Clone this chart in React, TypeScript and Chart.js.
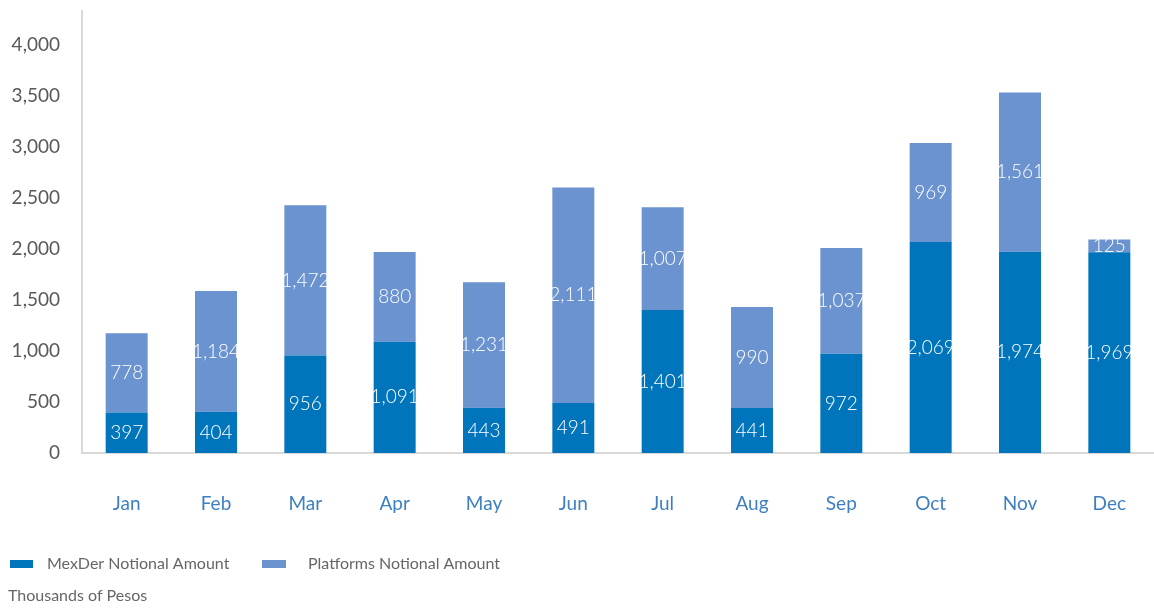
import React, { useEffect, useRef } from "react";
import { Chart, registerables } from "chart.js";

Chart.register(...registerables);

const months = ["Jan", "Feb", "Mar", "Apr", "May", "Jun", "Jul", "Aug", "Sep", "Oct", "Nov", "Dec"];
const mexder = [397, 404, 956, 1091, 443, 491, 1401, 441, 972, 2069, 1974, 1969];
const platforms = [778, 1184, 1472, 880, 1231, 2111, 1007, 990, 1037, 969, 1561, 125];
const yTicks = [0, 500, 1000, 1500, 2000, 2500, 3000, 3500, 4000];
const seriesNames = ["MexDer Notional Amount", "Platforms Notional Amount"];
const unitNote = "Thousands of Pesos";

const C_MEX = "#0075BB";
const C_PLAT = "#6B93CF";
const FONT = "Lato";

const fmt = (v: number) => v.toLocaleString("en-US");

export default function App() {
  const ref = useRef<HTMLCanvasElement>(null);
  useEffect(() => {
    const labelsPlugin = {
      id: "segLabels",
      afterDatasetsDraw(chart: any) {
        const ctx = chart.ctx;
        ctx.save();
        ctx.fillStyle = "#ffffff";
        ctx.font = `300 19px ${FONT}`;
        ctx.textAlign = "center";
        ctx.textBaseline = "middle";
        chart.data.datasets.forEach((ds: any, i: number) => {
          const meta = chart.getDatasetMeta(i);
          meta.data.forEach((bar: any, j: number) => {
            const y = (bar.y + bar.base) / 2;
            ctx.fillText(fmt(ds.data[j]), bar.x, y);
          });
        });
        ctx.restore();
      },
    };
    const legendPlugin = {
      id: "customLegend",
      afterDraw(chart: any) {
        const ctx = chart.ctx;
        ctx.save();
        ctx.font = `16px ${FONT}`;
        ctx.textBaseline = "middle";
        ctx.fillStyle = C_MEX;
        ctx.fillRect(10, 560, 23, 8);
        ctx.fillStyle = C_PLAT;
        ctx.fillRect(262, 560, 24, 8);
        ctx.fillStyle = "#666666";
        ctx.textAlign = "left";
        ctx.fillText(seriesNames[0], 47, 564);
        ctx.fillText(seriesNames[1], 308, 564);
        ctx.fillText(unitNote, 8, 596);
        ctx.restore();
      },
    };
    const chart = new Chart(ref.current!, {
      type: "bar",
      data: {
        labels: months,
        datasets: [
          { label: seriesNames[0], data: mexder, backgroundColor: C_MEX, barPercentage: 0.47, categoryPercentage: 1 },
          { label: seriesNames[1], data: platforms, backgroundColor: C_PLAT, barPercentage: 0.47, categoryPercentage: 1 },
        ],
      },
      options: {
        animation: false,
        responsive: false,
        maintainAspectRatio: false,
        layout: { padding: { top: 11, left: 0, right: 0, bottom: 0 } },
        plugins: { legend: { display: false }, tooltip: { enabled: false } },
        scales: {
          x: {
            stacked: true,
            grid: { display: false, drawTicks: false },
            border: { display: true, color: "#d9d9d9", width: 2 },
            ticks: { color: "#3D7FC1", font: { family: FONT, size: 19 }, padding: 39 },
            afterFit: (s: any) => {
              s.height = 155;
              s.paddingLeft = 0;
              s.paddingRight = 0;
            },
          },
          y: {
            stacked: true,
            min: 0,
            max: 4333,
            grid: { display: false, drawTicks: false },
            border: { display: true, color: "#d9d9d9", width: 2 },
            afterBuildTicks: (s: any) => { s.ticks = yTicks.map((v) => ({ value: v })); },
            ticks: { color: "#595959", font: { family: FONT, size: 19 }, padding: 22, callback: (v: any) => fmt(Number(v)) },
            afterFit: (s: any) => {
              s.width = 82;
              s.paddingTop = 0;
              s.paddingBottom = 0;
            },
          },
        },
      },
      plugins: [labelsPlugin, legendPlugin],
    });
    return () => chart.destroy();
  }, []);
  return (
    <div style={{ position: "fixed", left: 0, top: 0, width: 1154, height: 608, background: "#fff" }}>
      <canvas ref={ref} width={1154} height={608} />
    </div>
  );
}
